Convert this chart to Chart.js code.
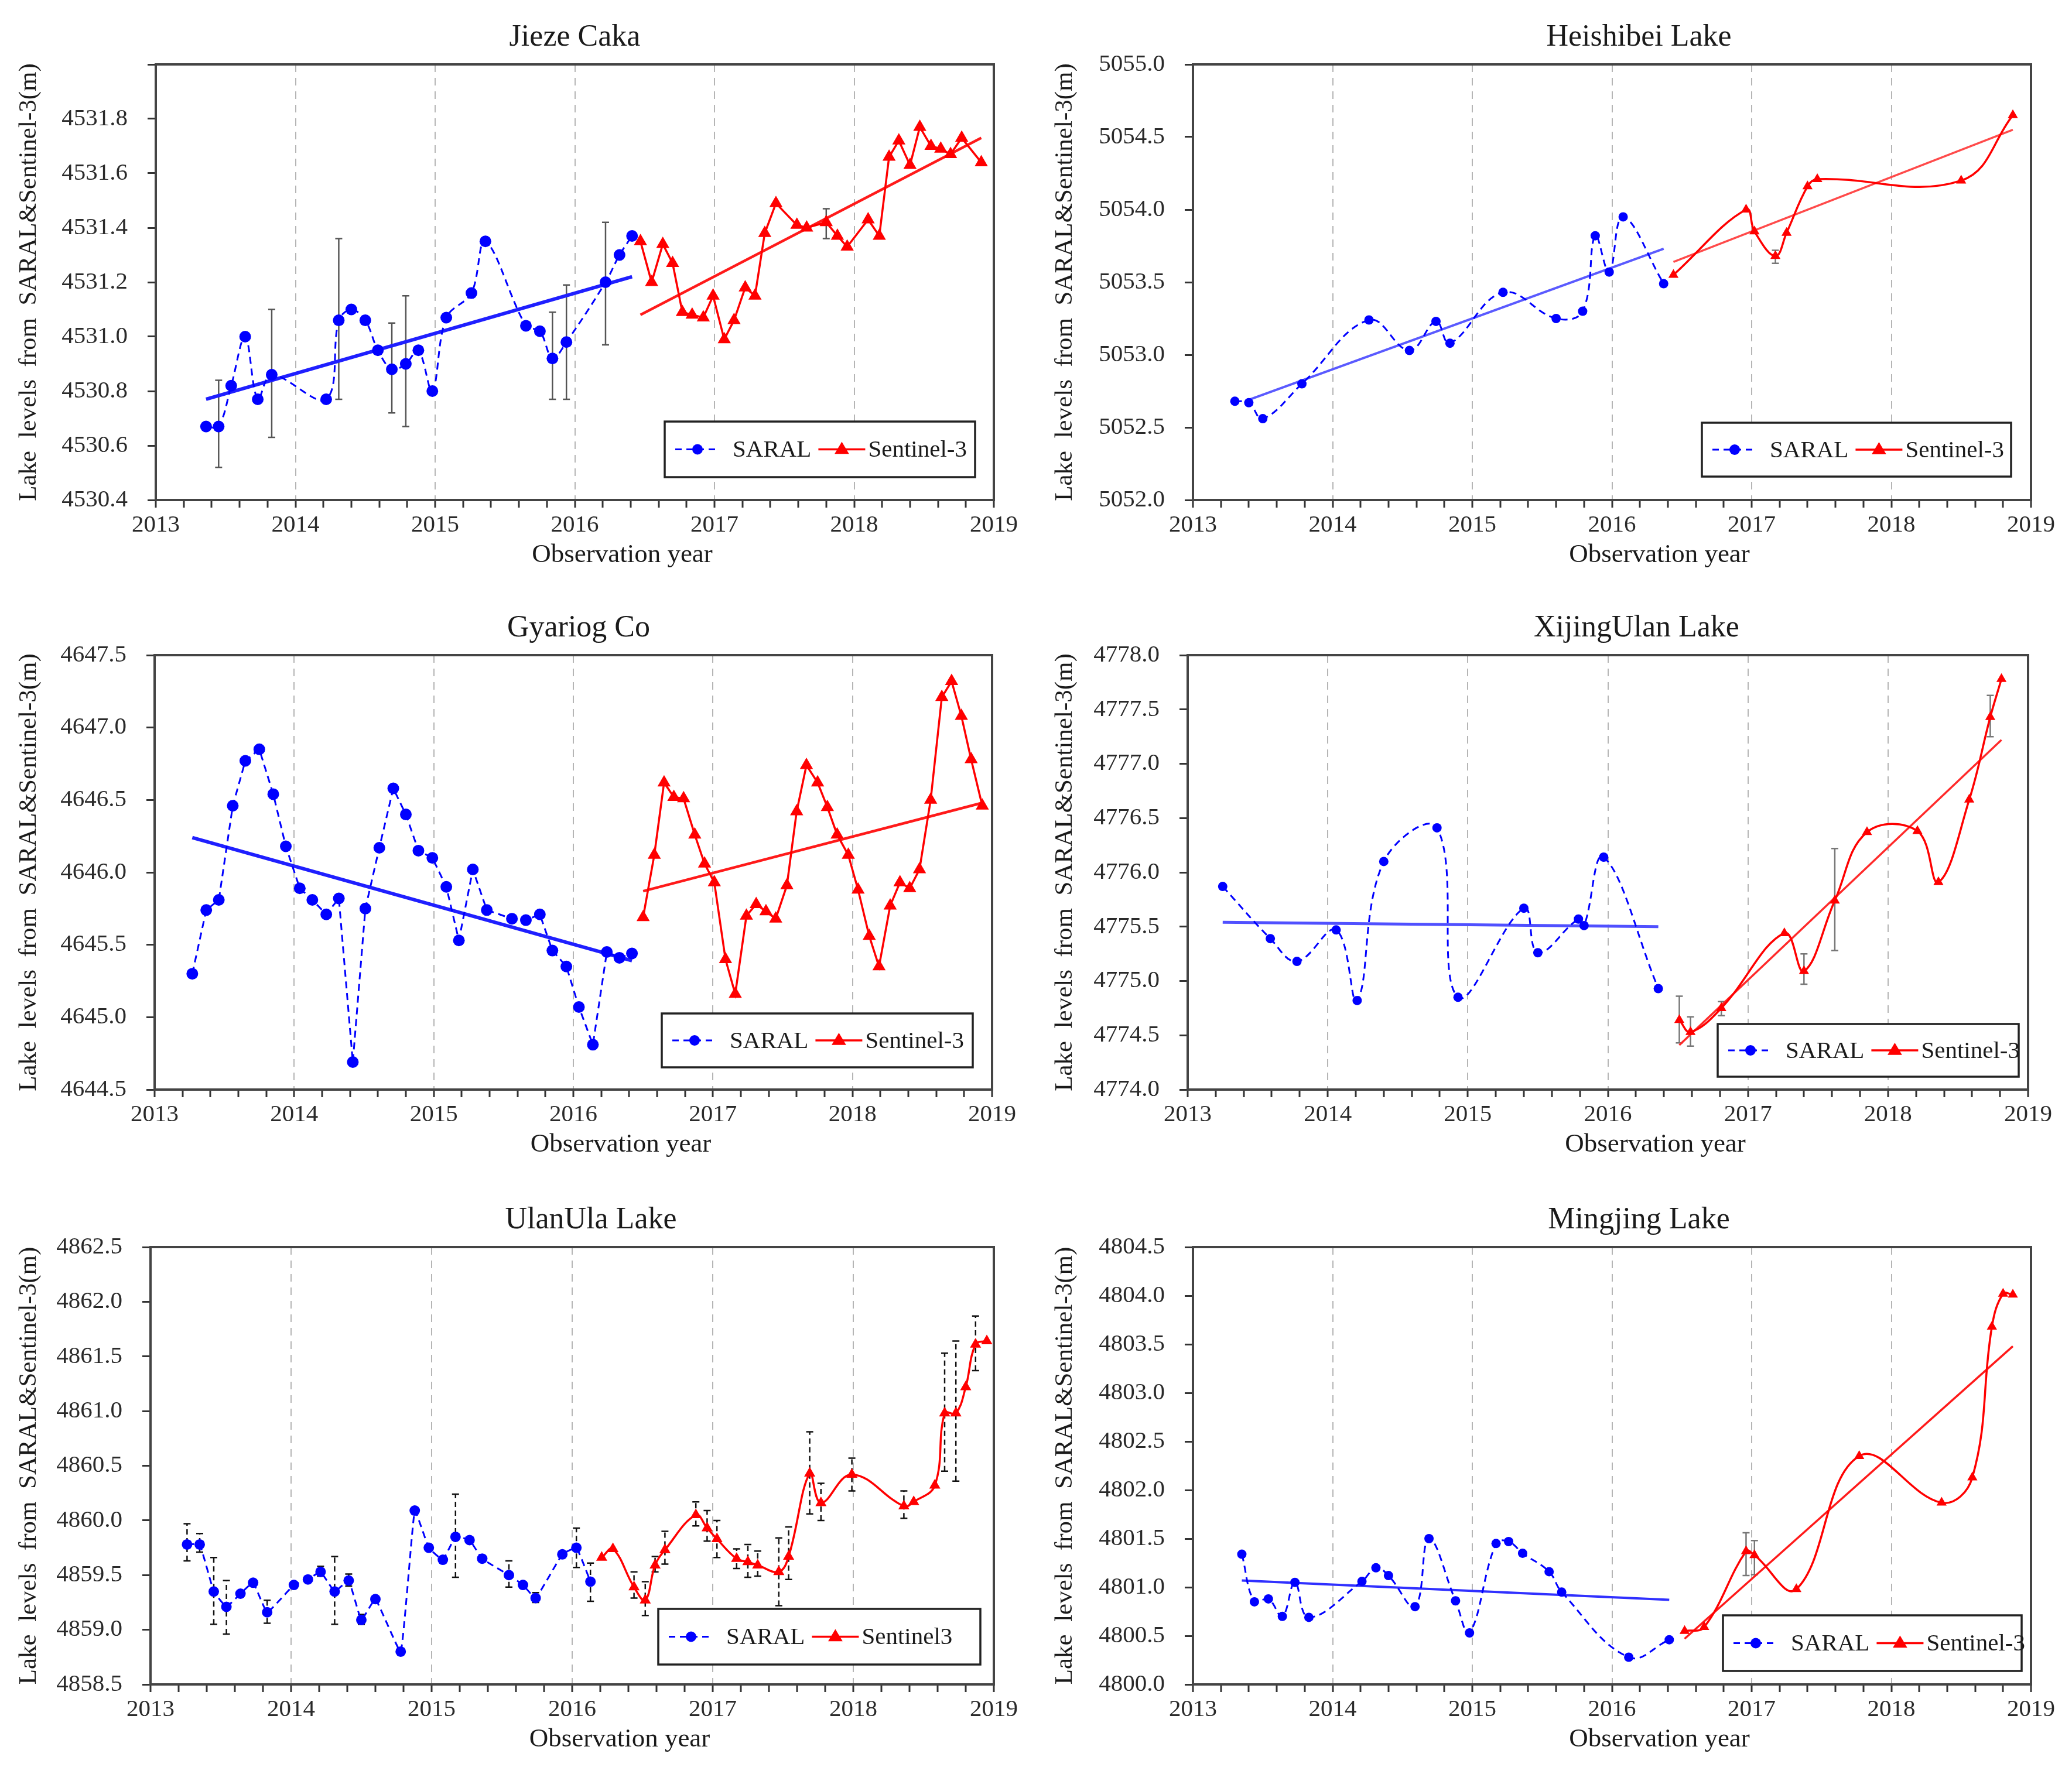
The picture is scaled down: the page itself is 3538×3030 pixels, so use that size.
<!DOCTYPE html>
<html>
<head>
<meta charset="utf-8">
<script src="https://cdn.jsdelivr.net/npm/chart.js@4.4.0/dist/chart.umd.min.js"></script>
<style>
body { margin: 0; background: #fff; width: 3538px; height: 3030px; position: relative; overflow: hidden; }
.panel { position: absolute; width: 1769px; height: 1010px; }
</style>
</head>
<body>
<div class="panel" style="left:0;top:0"><canvas id="c1"></canvas></div>
<div class="panel" style="left:1769px;top:0"><canvas id="c2"></canvas></div>
<div class="panel" style="left:0;top:1010px"><canvas id="c3"></canvas></div>
<div class="panel" style="left:1769px;top:1010px"><canvas id="c4"></canvas></div>
<div class="panel" style="left:0;top:2020px"><canvas id="c5"></canvas></div>
<div class="panel" style="left:1769px;top:2020px"><canvas id="c6"></canvas></div>
<script>
// ---- Jieze Caka ----
const jiezeSaralYear = [2013.36, 2013.45, 2013.54, 2013.64, 2013.73, 2013.83, 2014.22, 2014.31, 2014.40, 2014.50, 2014.59, 2014.69, 2014.79, 2014.88, 2014.98, 2015.08, 2015.26, 2015.36, 2015.65, 2015.75, 2015.84, 2015.94, 2016.22, 2016.32, 2016.41];
const jiezeSaralLevel = [4530.67, 4530.67, 4530.82, 4531.00, 4530.77, 4530.86, 4530.77, 4531.06, 4531.10, 4531.06, 4530.95, 4530.88, 4530.90, 4530.95, 4530.80, 4531.07, 4531.16, 4531.35, 4531.04, 4531.02, 4530.92, 4530.98, 4531.20, 4531.30, 4531.37];
const jiezeSentYear = [2016.47, 2016.55, 2016.63, 2016.70, 2016.77, 2016.84, 2016.92, 2016.99, 2017.07, 2017.14, 2017.22, 2017.29, 2017.36, 2017.44, 2017.59, 2017.66, 2017.80, 2017.88, 2017.95, 2018.10, 2018.18, 2018.25, 2018.32, 2018.40, 2018.47, 2018.55, 2018.62, 2018.69, 2018.77, 2018.91];
const jiezeSentLevel = [4531.35, 4531.20, 4531.34, 4531.27, 4531.09, 4531.08, 4531.07, 4531.15, 4530.99, 4531.06, 4531.18, 4531.15, 4531.38, 4531.49, 4531.41, 4531.40, 4531.42, 4531.37, 4531.33, 4531.43, 4531.37, 4531.66, 4531.72, 4531.63, 4531.77, 4531.70, 4531.69, 4531.67, 4531.73, 4531.64];
const jiezeSaralTrendYear = [2013.36, 2016.41], jiezeSaralTrendLevel = [4530.77, 4531.22];
const jiezeSentTrendYear = [2016.47, 2018.91], jiezeSentTrendLevel = [4531.08, 4531.73];
const jiezeErrYear = [2013.45, 2013.83, 2014.31, 2014.69, 2014.79, 2015.84, 2015.94, 2016.22, 2017.80];
const jiezeErrLow = [4530.52, 4530.63, 4530.77, 4530.72, 4530.67, 4530.77, 4530.77, 4530.97, 4531.36];
const jiezeErrHigh = [4530.84, 4531.10, 4531.36, 4531.05, 4531.15, 4531.09, 4531.19, 4531.42, 4531.47];

// ---- Heishibei Lake ----
const heishiSaralYear = [2013.30, 2013.40, 2013.50, 2013.78, 2014.26, 2014.55, 2014.74, 2014.84, 2015.22, 2015.60, 2015.79, 2015.88, 2015.98, 2016.08, 2016.37];
const heishiSaralLevel = [5052.68, 5052.67, 5052.56, 5052.80, 5053.24, 5053.03, 5053.23, 5053.08, 5053.43, 5053.25, 5053.30, 5053.82, 5053.57, 5053.95, 5053.49];
const heishiSentYear = [2016.44, 2016.96, 2017.02, 2017.17, 2017.25, 2017.40, 2017.47, 2018.50, 2018.87];
const heishiSentLevel = [5053.55, 5054.00, 5053.85, 5053.68, 5053.84, 5054.16, 5054.21, 5054.20, 5054.65];
const heishiSaralTrendYear = [2013.40, 2016.37], heishiSaralTrendLevel = [5052.69, 5053.73];
const heishiSentTrendYear = [2016.44, 2018.87], heishiSentTrendLevel = [5053.64, 5054.55];
const heishiErrYear = [2017.17], heishiErrLow = [5053.63], heishiErrHigh = [5053.72];

// ---- Gyariog Co ----
const gyariogSaralYear = [2013.27, 2013.37, 2013.46, 2013.56, 2013.65, 2013.75, 2013.85, 2013.94, 2014.04, 2014.13, 2014.23, 2014.32, 2014.42, 2014.51, 2014.61, 2014.71, 2014.80, 2014.89, 2014.99, 2015.09, 2015.18, 2015.28, 2015.38, 2015.56, 2015.66, 2015.76, 2015.85, 2015.95, 2016.04, 2016.14, 2016.24, 2016.33, 2016.42];
const gyariogSaralLevel = [4645.30, 4645.74, 4645.81, 4646.46, 4646.77, 4646.85, 4646.54, 4646.18, 4645.89, 4645.81, 4645.71, 4645.82, 4644.69, 4645.75, 4646.17, 4646.58, 4646.40, 4646.15, 4646.10, 4645.90, 4645.53, 4646.02, 4645.74, 4645.68, 4645.67, 4645.71, 4645.46, 4645.35, 4645.07, 4644.81, 4645.45, 4645.41, 4645.44];
const gyariogSentYear = [2016.50, 2016.58, 2016.65, 2016.72, 2016.79, 2016.87, 2016.94, 2017.01, 2017.09, 2017.16, 2017.24, 2017.31, 2017.38, 2017.45, 2017.53, 2017.60, 2017.67, 2017.75, 2017.82, 2017.89, 2017.97, 2018.04, 2018.12, 2018.19, 2018.27, 2018.34, 2018.41, 2018.48, 2018.56, 2018.64, 2018.71, 2018.78, 2018.85, 2018.93];
const gyariogSentLevel = [4645.69, 4646.12, 4646.62, 4646.52, 4646.51, 4646.26, 4646.06, 4645.93, 4645.40, 4645.16, 4645.70, 4645.78, 4645.73, 4645.68, 4645.91, 4646.42, 4646.74, 4646.62, 4646.45, 4646.26, 4646.12, 4645.88, 4645.56, 4645.35, 4645.77, 4645.93, 4645.89, 4646.02, 4646.50, 4647.21, 4647.32, 4647.08, 4646.78, 4646.46];
const gyariogSaralTrendYear = [2013.27, 2016.42], gyariogSaralTrendLevel = [4646.24, 4645.39];
const gyariogSentTrendYear = [2016.50, 2018.93], gyariogSentTrendLevel = [4645.87, 4646.48];

// ---- XijingUlan Lake ----
const xijingSaralYear = [2013.25, 2013.59, 2013.78, 2014.06, 2014.21, 2014.40, 2014.78, 2014.93, 2015.40, 2015.50, 2015.79, 2015.83, 2015.97, 2016.36];
const xijingSaralLevel = [4775.87, 4775.39, 4775.18, 4775.47, 4774.82, 4776.10, 4776.41, 4774.85, 4775.67, 4775.26, 4775.57, 4775.51, 4776.14, 4774.93];
const xijingSentYear = [2016.51, 2016.59, 2016.81, 2017.26, 2017.40, 2017.62, 2017.85, 2018.21, 2018.36, 2018.58, 2018.73, 2018.81];
const xijingSentLevel = [4774.64, 4774.53, 4774.75, 4775.44, 4775.09, 4775.74, 4776.37, 4776.38, 4775.91, 4776.67, 4777.43, 4777.78];
const xijingSaralTrendYear = [2013.25, 2016.36], xijingSaralTrendLevel = [4775.54, 4775.50];
const xijingSentTrendYear = [2016.51, 2018.81], xijingSentTrendLevel = [4774.41, 4777.22];
const xijingErrYear = [2016.51, 2016.59, 2016.81, 2017.40, 2017.62, 2018.73];
const xijingErrLow = [4774.43, 4774.40, 4774.68, 4774.97, 4775.28, 4777.25];
const xijingErrHigh = [4774.86, 4774.67, 4774.81, 4775.25, 4776.22, 4777.63];

// ---- UlanUla Lake ----
const ulanSaralYear = [2013.26, 2013.35, 2013.45, 2013.54, 2013.64, 2013.73, 2013.83, 2014.02, 2014.12, 2014.21, 2014.31, 2014.41, 2014.50, 2014.60, 2014.78, 2014.88, 2014.98, 2015.08, 2015.17, 2015.27, 2015.36, 2015.55, 2015.65, 2015.74, 2015.93, 2016.03, 2016.13];
const ulanSaralLevel = [4859.78, 4859.78, 4859.35, 4859.21, 4859.33, 4859.43, 4859.16, 4859.41, 4859.46, 4859.53, 4859.35, 4859.45, 4859.09, 4859.28, 4858.80, 4860.09, 4859.75, 4859.64, 4859.85, 4859.82, 4859.65, 4859.50, 4859.41, 4859.29, 4859.69, 4859.75, 4859.44];
const ulanSentYear = [2016.21, 2016.29, 2016.44, 2016.52, 2016.59, 2016.66, 2016.88, 2016.96, 2017.03, 2017.17, 2017.25, 2017.32, 2017.47, 2017.54, 2017.69, 2017.77, 2017.99, 2018.36, 2018.43, 2018.58, 2018.65, 2018.73, 2018.80, 2018.87, 2018.95];
const ulanSentLevel = [4859.66, 4859.74, 4859.39, 4859.27, 4859.59, 4859.73, 4860.05, 4859.93, 4859.83, 4859.65, 4859.62, 4859.59, 4859.53, 4859.67, 4860.43, 4860.16, 4860.42, 4860.13, 4860.17, 4860.32, 4860.98, 4860.98, 4861.22, 4861.61, 4861.64];
const ulanErrYear = [2013.26, 2013.35, 2013.45, 2013.54, 2013.83, 2014.21, 2014.31, 2014.41, 2014.50, 2015.17, 2015.55, 2015.74, 2016.03, 2016.13,
  2016.44, 2016.52, 2016.59, 2016.66, 2016.88, 2016.96, 2017.03, 2017.17, 2017.25, 2017.32, 2017.47, 2017.54, 2017.69, 2017.77, 2017.99, 2018.36, 2018.65, 2018.73, 2018.87];
const ulanErrLow = [4859.63, 4859.71, 4859.05, 4858.96, 4859.06, 4859.49, 4859.05, 4859.40, 4859.05, 4859.48, 4859.39, 4859.25, 4859.57, 4859.26,
  4859.29, 4859.13, 4859.53, 4859.60, 4859.95, 4859.81, 4859.66, 4859.56, 4859.48, 4859.49, 4859.22, 4859.46, 4860.06, 4860.00, 4860.27, 4860.02, 4860.45, 4860.36, 4861.37];
const ulanErrHigh = [4859.97, 4859.88, 4859.66, 4859.45, 4859.27, 4859.58, 4859.67, 4859.51, 4859.14, 4860.24, 4859.63, 4859.34, 4859.93, 4859.61,
  4859.53, 4859.44, 4859.67, 4859.90, 4860.17, 4860.09, 4860.00, 4859.74, 4859.78, 4859.72, 4859.84, 4859.94, 4860.81, 4860.34, 4860.57, 4860.27, 4861.53, 4861.64, 4861.87];

// ---- Mingjing Lake ----
const mingSaralYear = [2013.35, 2013.44, 2013.54, 2013.64, 2013.73, 2013.83, 2014.21, 2014.31, 2014.40, 2014.59, 2014.69, 2014.88, 2014.98, 2015.17, 2015.26, 2015.36, 2015.55, 2015.64, 2016.12, 2016.41];
const mingSaralLevel = [4801.34, 4800.85, 4800.88, 4800.70, 4801.05, 4800.69, 4801.06, 4801.20, 4801.12, 4800.80, 4801.50, 4800.86, 4800.53, 4801.45, 4801.47, 4801.35, 4801.16, 4800.95, 4800.28, 4800.46];
const mingSentYear = [2016.52, 2016.66, 2016.96, 2017.02, 2017.32, 2017.77, 2018.36, 2018.58, 2018.72, 2018.80, 2018.87];
const mingSentLevel = [4800.55, 4800.59, 4801.37, 4801.33, 4800.98, 4802.35, 4801.87, 4802.13, 4803.68, 4804.02, 4804.01];
const mingSaralTrendYear = [2013.35, 2016.41], mingSaralTrendLevel = [4801.07, 4800.87];
const mingSentTrendYear = [2016.52, 2018.87], mingSentTrendLevel = [4800.47, 4803.48];
const mingErrYear = [2016.96, 2017.02], mingErrLow = [4801.12, 4801.13], mingErrHigh = [4801.56, 4801.48];

const yTitle = 'Lake  levels  from  SARAL&Sentinel-3(m)';
const serif = '"Liberation Serif", "Times New Roman", serif';
const BLUE = '#0000ff', RED = '#ff0000';

function pts(xs, ys) {
    return xs.map(function(x, i) { return {x: x, y: ys[i]}; });
}
function isYear(v) {
    return Math.abs(v - Math.round(v)) < 1e-6;
}

// panel settings (layout + style)
const panels = [
    {id: 'c1', title: 'Jieze Caka', dx: 0, area: [266, 1697, 110, 854], legend: [1135, 720, 530, 95],
     yMin: 4530.4, yMax: 4532.0, yStep: 0.2, hideTop: true, sentName: 'Sentinel-3',
     saral: [jiezeSaralYear, jiezeSaralLevel], sent: [jiezeSentYear, jiezeSentLevel],
     saralTrend: [jiezeSaralTrendYear, jiezeSaralTrendLevel], sentTrend: [jiezeSentTrendYear, jiezeSentTrendLevel],
     err: [jiezeErrYear, jiezeErrLow, jiezeErrHigh], errColor: '#555', errDash: [],
     tb: 0.35, tr: 0, dotR: 10, triR: 13, tw1: 6, tw2: 4.5, trendBlue: '#1f1fff', trendRed: '#ff1a1a'},
    {id: 'c2', title: 'Heishibei Lake', dx: 46, area: [268, 1699, 110, 854], legend: [1137, 722, 528, 92],
     yMin: 5052.0, yMax: 5055.0, yStep: 0.5, sentName: 'Sentinel-3',
     saral: [heishiSaralYear, heishiSaralLevel], sent: [heishiSentYear, heishiSentLevel],
     saralTrend: [heishiSaralTrendYear, heishiSaralTrendLevel], sentTrend: [heishiSentTrendYear, heishiSentTrendLevel],
     err: [heishiErrYear, heishiErrLow, heishiErrHigh], errColor: '#777', errDash: [],
     tb: 0.4, tr: 0.4, dotR: 8, triR: 10, tw1: 4, tw2: 3.5, trendBlue: '#5a5aff', trendRed: '#ff4a4a'},
    {id: 'c3', title: 'Gyariog Co', dx: 9, area: [264, 1694, 109, 851], legend: [1130, 721, 531, 92],
     yMin: 4644.5, yMax: 4647.5, yStep: 0.5, sentName: 'Sentinel-3',
     saral: [gyariogSaralYear, gyariogSaralLevel], sent: [gyariogSentYear, gyariogSentLevel],
     saralTrend: [gyariogSaralTrendYear, gyariogSaralTrendLevel], sentTrend: [gyariogSentTrendYear, gyariogSentTrendLevel],
     err: null, tb: 0, tr: 0, dotR: 10, triR: 13, tw1: 6, tw2: 4.5, trendBlue: '#1f1fff', trendRed: '#ff1a1a'},
    {id: 'c4', title: 'XijingUlan Lake', dx: 49, area: [259, 1694, 109, 851], legend: [1164, 739, 514, 90],
     yMin: 4774.0, yMax: 4778.0, yStep: 0.5, sentName: 'Sentinel-3',
     saral: [xijingSaralYear, xijingSaralLevel], sent: [xijingSentYear, xijingSentLevel],
     saralTrend: [xijingSaralTrendYear, xijingSaralTrendLevel], sentTrend: [xijingSentTrendYear, xijingSentTrendLevel],
     err: [xijingErrYear, xijingErrLow, xijingErrHigh], errColor: '#777', errDash: [],
     tb: 0.4, tr: 0.4, dotR: 8, triR: 10, tw1: 5, tw2: 3.5, trendBlue: '#5050ff', trendRed: '#ff2a2a'},
    {id: 'c5', title: 'UlanUla Lake', dx: 32, area: [257, 1697, 110, 857], legend: [1124, 728, 550, 95],
     yMin: 4858.5, yMax: 4862.5, yStep: 0.5, sentName: 'Sentinel3',
     saral: [ulanSaralYear, ulanSaralLevel], sent: [ulanSentYear, ulanSentLevel],
     saralTrend: null, sentTrend: null,
     err: [ulanErrYear, ulanErrLow, ulanErrHigh], errColor: '#111', errDash: [9, 6],
     tb: 0.1, tr: 0.4, dotR: 9, triR: 11},
    {id: 'c6', title: 'Mingjing Lake', dx: 46, area: [268, 1699, 110, 857], legend: [1173, 739, 510, 95],
     yMin: 4800.0, yMax: 4804.5, yStep: 0.5, sentName: 'Sentinel-3',
     saral: [mingSaralYear, mingSaralLevel], sent: [mingSentYear, mingSentLevel],
     saralTrend: [mingSaralTrendYear, mingSaralTrendLevel], sentTrend: [mingSentTrendYear, mingSentTrendLevel],
     err: [mingErrYear, mingErrLow, mingErrHigh], errColor: '#777', errDash: [],
     tb: 0.4, tr: 0.4, dotR: 8, triR: 10, tw1: 4, tw2: 3.5, trendBlue: '#3030ff', trendRed: '#ff1a1a'}
];

function drawTri(ctx, x, y, r) {
    ctx.beginPath();
    ctx.moveTo(x, y - r);
    ctx.lineTo(x + r * 0.95, y + r * 0.6);
    ctx.lineTo(x - r * 0.95, y + r * 0.6);
    ctx.closePath();
    ctx.fill();
}

// error bars, frame, title, x title and the boxed legend
const decor = {
    id: 'decor',
    beforeDatasetsDraw: function(chart, args, o) {
        if (!o.err) return;
        const ctx = chart.ctx, xs = chart.scales.x, ys = chart.scales.y;
        ctx.save();
        ctx.strokeStyle = o.errColor;
        ctx.lineWidth = 2.5;
        for (let i = 0; i < o.err[0].length; i++) {
            const x = xs.getPixelForValue(o.err[0][i]);
            const y1 = ys.getPixelForValue(o.err[1][i]);
            const y2 = ys.getPixelForValue(o.err[2][i]);
            ctx.setLineDash(o.errDash);
            ctx.beginPath(); ctx.moveTo(x, y1); ctx.lineTo(x, y2); ctx.stroke();
            ctx.setLineDash([]);
            ctx.beginPath();
            ctx.moveTo(x - 6, y1); ctx.lineTo(x + 6, y1);
            ctx.moveTo(x - 6, y2); ctx.lineTo(x + 6, y2);
            ctx.stroke();
        }
        ctx.restore();
    },
    afterDraw: function(chart, args, o) {
        const ctx = chart.ctx, ca = chart.chartArea;
        const mid = (ca.left + ca.right) / 2;
        ctx.save();
        ctx.strokeStyle = '#444';
        ctx.lineWidth = 4;
        ctx.strokeRect(ca.left, ca.top, ca.right - ca.left, ca.bottom - ca.top);

        ctx.fillStyle = '#1a1a1a';
        ctx.textAlign = 'center';
        ctx.textBaseline = 'middle';
        ctx.font = '52px ' + serif;
        ctx.fillText(o.title, mid + o.dx, ca.top - 46);
        ctx.font = '45px ' + serif;
        ctx.fillText('Observation year', mid + 81, ca.bottom + 94);

        // legend box
        const L = o.legend;
        ctx.fillStyle = '#fff';
        ctx.fillRect(L[0], L[1], L[2], L[3]);
        ctx.strokeStyle = '#222';
        ctx.lineWidth = 3.5;
        ctx.strokeRect(L[0], L[1], L[2], L[3]);
        const cy = L[1] + L[3] / 2;
        ctx.font = '41px ' + serif;
        ctx.textAlign = 'left';
        let x = L[0] + 18;
        ctx.strokeStyle = BLUE; ctx.lineWidth = 3; ctx.setLineDash([11, 8]);
        ctx.beginPath(); ctx.moveTo(x, cy); ctx.lineTo(x + 76, cy); ctx.stroke();
        ctx.setLineDash([]);
        ctx.fillStyle = BLUE;
        ctx.beginPath(); ctx.arc(x + 38, cy, 9, 0, Math.PI * 2); ctx.fill();
        x += 98;
        ctx.fillStyle = '#1a1a1a';
        ctx.fillText('SARAL', x, cy + 2);
        x += ctx.measureText('SARAL').width + 12;
        ctx.strokeStyle = RED; ctx.lineWidth = 3.5;
        ctx.beginPath(); ctx.moveTo(x, cy); ctx.lineTo(x + 80, cy); ctx.stroke();
        ctx.fillStyle = RED;
        drawTri(ctx, x + 40, cy, 13);
        x += 85;
        ctx.fillStyle = '#1a1a1a';
        ctx.fillText(o.sentName, x, cy + 2);
        ctx.restore();
    }
};

panels.forEach(function(p) {
    const ctx = document.getElementById(p.id).getContext('2d');
    const datasets = [
        {
            label: 'SARAL', data: pts(p.saral[0], p.saral[1]),
            borderColor: BLUE, backgroundColor: BLUE, borderWidth: 3, borderDash: [12, 8],
            pointStyle: 'circle', pointRadius: p.dotR, pointBorderWidth: 0, tension: p.tb
        },
        {
            label: p.sentName, data: pts(p.sent[0], p.sent[1]),
            borderColor: RED, backgroundColor: RED, borderWidth: 3.5,
            pointStyle: 'triangle', pointRadius: p.triR, pointBorderWidth: 0, tension: p.tr
        }
    ];
    if (p.saralTrend) {
        datasets.push({
            label: 'SARAL trend', data: pts(p.saralTrend[0], p.saralTrend[1]),
            borderColor: p.trendBlue, borderWidth: p.tw1, pointRadius: 0, tension: 0
        });
        datasets.push({
            label: 'Sentinel-3 trend', data: pts(p.sentTrend[0], p.sentTrend[1]),
            borderColor: p.trendRed, borderWidth: p.tw2, pointRadius: 0, tension: 0
        });
    }

    var chart = new Chart(ctx, {
        type: 'line',
        data: { datasets: datasets },
        plugins: [decor],
        options: {
            responsive: true,
            maintainAspectRatio: false,
            devicePixelRatio: 1,
            animation: false,
            layout: { padding: { top: p.area[2], right: 1769 - p.area[1], left: 0, bottom: 0 } },
            plugins: {
                legend: { display: false },
                title: { display: false },
                tooltip: { enabled: false },
                decor: {
                    title: p.title, dx: p.dx, legend: p.legend, sentName: p.sentName,
                    err: p.err, errColor: p.errColor, errDash: p.errDash
                }
            },
            scales: {
                x: {
                    type: 'linear', min: 2013, max: 2019,
                    afterFit: function(s) { s.height = 1010 - p.area[3]; },
                    ticks: {
                        stepSize: 0.2, autoSkip: false, maxRotation: 0, padding: 6,
                        color: '#2a2a2a', font: { family: serif, size: 41 },
                        callback: function(v) { return isYear(v) ? String(Math.round(v)) : ''; }
                    },
                    grid: {
                        color: function(c) {
                            const v = c.tick ? c.tick.value : 0;
                            return (isYear(v) && v > 2013.5 && v < 2018.5) ? '#b5b5b5' : 'rgba(0,0,0,0)';
                        },
                        lineWidth: 2, tickColor: '#333', tickLength: 13, tickWidth: 3
                    },
                    border: { display: true, color: '#444', width: 4, dash: [13, 10] }
                },
                y: {
                    min: p.yMin, max: p.yMax,
                    afterFit: function(s) { s.width = p.area[0]; },
                    ticks: {
                        stepSize: p.yStep, padding: 34,
                        color: '#2a2a2a', font: { family: serif, size: 41 },
                        callback: function(v) {
                            if (p.hideTop && v > p.yMax - p.yStep / 2) return '';
                            return Number(v).toFixed(1);
                        }
                    },
                    grid: { drawOnChartArea: false, tickColor: '#333', tickLength: 14, tickWidth: 3 },
                    border: { display: true, color: '#444', width: 4 },
                    title: {
                        display: true, text: yTitle, color: '#1a1a1a',
                        font: { family: serif, size: 43 }, padding: { top: 24, bottom: 0 }
                    }
                }
            }
        }
    });
});
</script>
</body>
</html>
